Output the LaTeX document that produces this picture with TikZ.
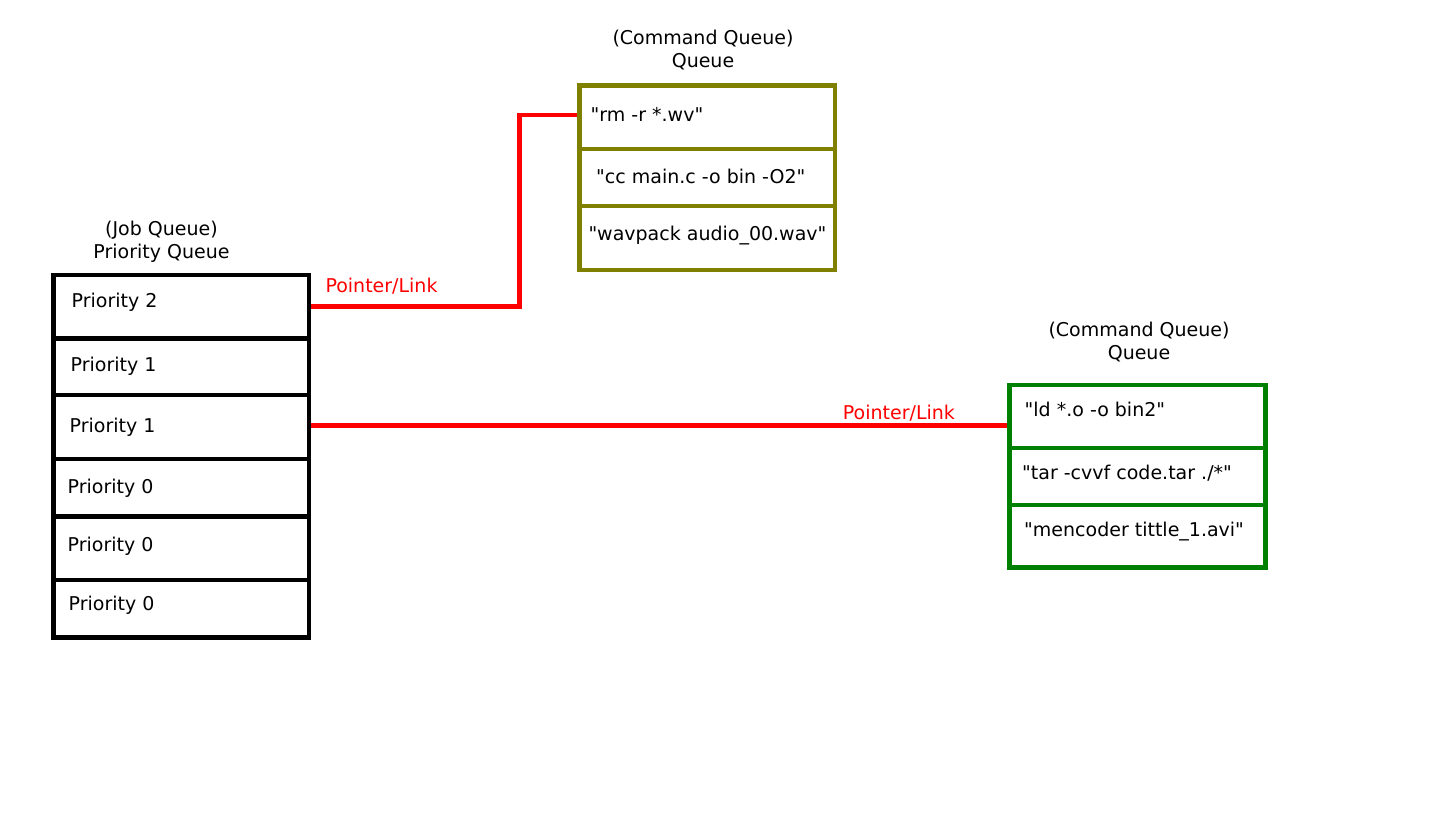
\documentclass[tikz,border=0pt]{standalone}
\usepackage{fontspec}
\setmainfont{DejaVu Sans}
\definecolor{olivebox}{HTML}{808000}
\definecolor{greenbox}{HTML}{008000}
\definecolor{linkred}{HTML}{FF0000}
\newcommand{\qq}{\textquotedbl}
\begin{document}
\begin{tikzpicture}[x=1pt,y=-1pt,
  every node/.style={font=\fontsize{19}{23}\selectfont},
  cell/.style={draw, rectangle, inner sep=0pt, minimum width=255.5pt},
  jobcell/.style={cell, draw=black, line width=4.8pt},
  olivecell/.style={cell, draw=olivebox, line width=4.4pt},
  greencell/.style={cell, draw=greenbox, line width=4.8pt},
  celltext/.style={anchor=base west, inner sep=0pt},
  title/.style={align=center, anchor=base, inner sep=0pt},
  link/.style={draw=linkred, line width=4.6pt},
  linklabel/.style={anchor=base west, inner sep=0pt, text=linkred}]
\useasboundingbox (0,0) rectangle (1449,813);

% Job queue (priority queue)
\node[title] (jt) at (161.5,258.5) {(Job Queue)\\Priority Queue};
\node[jobcell, minimum height=63.5pt] (p1) at (181.25,306.75) {};
\node[jobcell, minimum height=56.5pt] (p2) at (181.25,366.75) {};
\node[jobcell, minimum height=64pt]   (p3) at (181.25,427) {};
\node[jobcell, minimum height=57.5pt] (p4) at (181.25,487.75) {};
\node[jobcell, minimum height=63.5pt] (p5) at (181.25,548.25) {};
\node[jobcell, minimum height=57.5pt] (p6) at (181.25,608.75) {};
\node[celltext] (t1) at (71.5,307.3) {Priority 2};
\node[celltext] (t2) at (70.5,371.7) {Priority 1};
\node[celltext] (t3) at (69.5,432) {Priority 1};
\node[celltext] (t4) at (67.5,493.3) {Priority 0};
\node[celltext] (t5) at (67.5,551) {Priority 0};
\node[celltext] (t6) at (68.5,610.7) {Priority 0};

% Command queue 1 (olive)
\node[title] (ot) at (703,68) {(Command Queue)\\Queue};
\node[olivecell, minimum height=63.5pt] (c1) at (707.25,117.25) {};
\node[olivecell, minimum height=57pt]   (c2) at (707.25,177.5) {};
\node[olivecell, minimum height=64pt]   (c3) at (707.25,238) {};
\node[celltext] (ct1) at (590.5,121.7) {\qq rm -r *.wv\qq};
\node[celltext] (ct2) at (596,184) {\qq cc main.c -o bin -O2\qq};
\node[celltext] (ct3) at (588.3,240.7) {\qq wavpack audio\_00.wav\qq};

% Command queue 2 (green)
\node[title] (gt) at (1139,359) {(Command Queue)\\Queue};
\node[greencell, minimum height=63pt]   (g1) at (1137.5,416.5) {};
\node[greencell, minimum height=57pt]   (g2) at (1137.5,476.5) {};
\node[greencell, minimum height=62.5pt] (g3) at (1137.5,536.25) {};
\node[celltext] (gt1) at (1024.5,416) {\qq ld *.o -o bin2\qq};
\node[celltext] (gt2) at (1022,479.3) {\qq tar -cvvf code.tar ./*\qq};
\node[celltext] (gt3) at (1024,536) {\qq mencoder tittle\_1.avi\qq};

% Links
\coordinate (j1) at (519.5,115);
\draw[link] (p1.east) -| (j1) -- (j1 -| c1.west);
\node[linklabel] (l1) at (325.3,293) {Pointer/Link};
\draw[link] (p3.east |- 0,425.5) -- (g1.west |- 0,425.5);
\node[linklabel] (l2) at (842.7,419.3) {Pointer/Link};
\end{tikzpicture}
\end{document}
